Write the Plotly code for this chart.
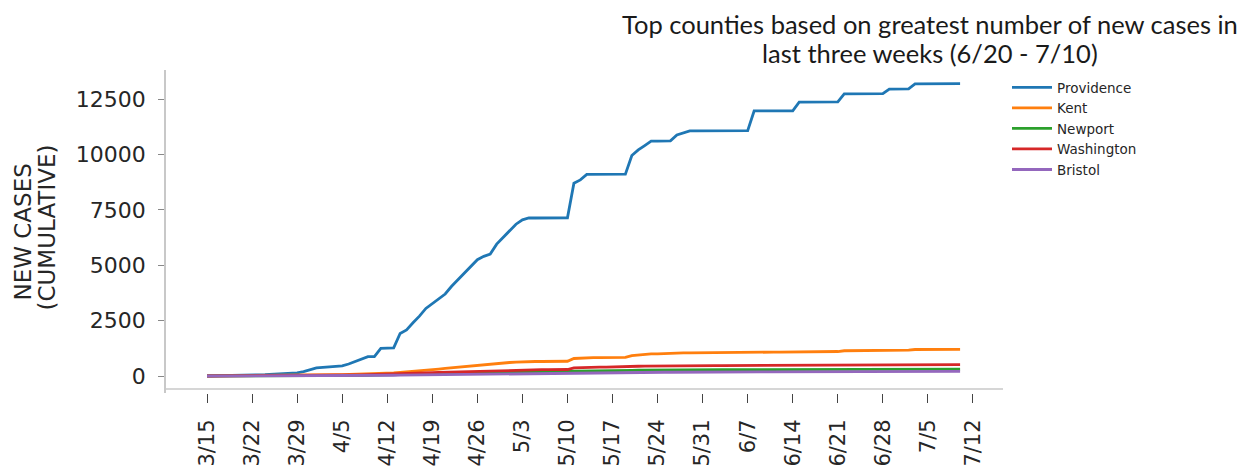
import pandas as pd
import plotly.graph_objects as go

# ---------------- data ----------------
start_date = "2020-03-15"
end_date = "2020-07-10"

tick_dates = ["2020-03-15", "2020-03-22", "2020-03-29", "2020-04-05", "2020-04-12",
              "2020-04-19", "2020-04-26", "2020-05-03", "2020-05-10", "2020-05-17",
              "2020-05-24", "2020-05-31", "2020-06-07", "2020-06-14", "2020-06-21",
              "2020-06-28", "2020-07-05", "2020-07-12"]
tick_labels = ["3/15", "3/22", "3/29", "4/5", "4/12", "4/19", "4/26", "5/3", "5/10",
               "5/17", "5/24", "5/31", "6/7", "6/14", "6/21", "6/28", "7/5", "7/12"]

y_tickvals = [0, 2500, 5000, 7500, 10000, 12500]
y_ticklabels = ["0", "2500", "5000", "7500", "10000", "12500"]

providence = [
    10, 12, 15, 20, 25, 30, 38, 45, 55, 62,
    75, 88, 100, 118, 140, 200, 300, 365, 385, 400,
    420, 460, 540, 640, 760, 870, 880, 1250, 1260, 1270,
    1920, 2080, 2400, 2700, 3050, 3280, 3480, 3700, 4050, 4350,
    4650, 4950, 5250, 5400, 5500, 5950, 6250, 6550, 6850, 7050,
    7130, 7130, 7135, 7135, 7140, 7140, 7140, 8700, 8850, 9100,
    9100, 9105, 9105, 9110, 9110, 9110, 9950, 10200, 10400, 10600,
    10600, 10605, 10610, 10880, 10980, 11060, 11060, 11065, 11065, 11070,
    11070, 11070, 11075, 11075, 11075, 11960, 11960, 11965, 11965, 11970,
    11970, 11970, 12360, 12360, 12365, 12365, 12370, 12370, 12370, 12730,
    12730, 12735, 12735, 12740, 12740, 12740, 12950, 12950, 12955, 12955,
    13180, 13180, 13185, 13185, 13190, 13190, 13190, 13190,
]
kent = [
    3, 4, 5, 6, 8, 10, 12, 14, 16, 18,
    20, 23, 26, 30, 34, 38, 42, 46, 50, 55,
    60, 66, 72, 80, 88, 96, 105, 115, 125, 140,
    160, 180, 200, 230, 255, 280, 310, 340, 370, 400,
    430, 460, 490, 515, 540, 565, 590, 610, 630, 645,
    650, 655, 655, 660, 660, 665, 665, 790, 810, 830,
    830, 832, 834, 836, 838, 840, 920, 950, 975, 1000,
    1000, 1002, 1004, 1030, 1040, 1045, 1045, 1047, 1047, 1049,
    1049, 1050, 1050, 1052, 1052, 1075, 1075, 1077, 1077, 1079,
    1079, 1080, 1100, 1100, 1102, 1102, 1104, 1104, 1105, 1140,
    1140, 1142, 1142, 1144, 1144, 1145, 1165, 1165, 1167, 1167,
    1195, 1195, 1197, 1197, 1199, 1199, 1200, 1200,
]
newport = [
    1, 1, 1, 2, 2, 2, 3, 3, 4, 4,
    5, 5, 6, 7, 8, 9, 10, 12, 14, 16,
    18, 20, 23, 26, 29, 32, 36, 40, 45, 50,
    56, 62, 68, 75, 82, 90, 98, 106, 114, 122,
    130, 138, 146, 154, 162, 170, 176, 182, 188, 194,
    196, 198, 200, 202, 204, 206, 208, 230, 236, 242,
    242, 243, 243, 244, 244, 245, 258, 262, 266, 270,
    270, 271, 271, 276, 278, 280, 280, 281, 281, 282,
    282, 282, 283, 283, 283, 288, 288, 289, 289, 290,
    290, 290, 294, 294, 295, 295, 296, 296, 296, 300,
    300, 301, 301, 302, 302, 302, 305, 305, 306, 306,
    310, 310, 311, 311, 312, 312, 312, 312,
]
washington = [
    1, 2, 2, 3, 3, 4, 5, 6, 7, 8,
    9, 10, 12, 14, 16, 18, 20, 23, 26, 30,
    34, 38, 43, 48, 54, 60, 66, 72, 80, 88,
    100, 110, 120, 130, 140, 150, 160, 170, 180, 190,
    200, 210, 220, 230, 240, 250, 258, 265, 272, 278,
    282, 284, 286, 288, 290, 292, 294, 370, 385, 400,
    400, 401, 402, 403, 404, 405, 430, 440, 445, 450,
    450, 451, 452, 460, 463, 465, 465, 466, 466, 467,
    467, 468, 468, 469, 469, 478, 478, 479, 479, 480,
    480, 481, 488, 488, 489, 489, 490, 490, 490, 498,
    498, 499, 499, 500, 500, 500, 505, 505, 506, 506,
    512, 512, 513, 513, 514, 514, 515, 515,
]
bristol = [
    0, 0, 1, 1, 1, 1, 2, 2, 2, 3,
    3, 4, 4, 5, 6, 7, 8, 9, 10, 11,
    12, 14, 16, 18, 20, 22, 24, 27, 30, 33,
    36, 40, 44, 48, 52, 56, 60, 64, 68, 72,
    76, 80, 84, 88, 92, 96, 100, 104, 108, 112,
    114, 116, 118, 120, 122, 124, 126, 145, 148, 152,
    152, 153, 153, 154, 154, 155, 163, 165, 167, 169,
    169, 170, 170, 173, 174, 175, 175, 176, 176, 176,
    177, 177, 177, 178, 178, 182, 182, 183, 183, 183,
    184, 184, 188, 188, 189, 189, 189, 190, 190, 193,
    193, 194, 194, 194, 195, 195, 198, 198, 198, 199,
    203, 203, 204, 204, 204, 205, 205, 205,
]

series_names = ["Providence", "Kent", "Newport", "Washington", "Bristol"]
series_values = [providence, kent, newport, washington, bristol]
series_colors = ["#1f77b4", "#ff7f0e", "#2ca02c", "#d62728", "#9467bd"]

title_lines = ["Top counties based on greatest number of new cases in",
               "last three weeks (6/20 - 7/10)"]
ytitle_lines = ["NEW CASES", "(CUMULATIVE)"]

# ---------------- figure ----------------
dates = pd.date_range(start_date, end_date, freq="D")

fig = go.Figure()
for name, vals, col in zip(series_names, series_values, series_colors):
    fig.add_trace(go.Scatter(x=dates, y=vals, name=name, mode="lines",
                             line=dict(color=col, width=2.8)))

# the page body adds an 8px offset; the figure is sized to fill the window
OFF = 8
W, H = 1252 - OFF, 467 - OFF
PLOT_L, PLOT_R, PLOT_T, PLOT_B = 166, 1003, 70, 393   # target window pixels
L, T = PLOT_L - OFF, PLOT_T - OFF
PW, PH = PLOT_R - PLOT_L, PLOT_B - PLOT_T
R, B = W - L - PW, H - T - PH


def px_x(p):
    return (p - PLOT_L) / PW


def px_y(p):
    return (PLOT_B - p) / PH


annotations = []
for line, ypix in zip(title_lines, [24.5, 53]):
    annotations.append(dict(text=line, xref="paper", yref="paper",
                            x=px_x(930), y=px_y(ypix), xanchor="center", yanchor="middle",
                            showarrow=False,
                            font=dict(family="Lato", size=25.5, color="#1a1a1a")))
for line, xpix, ypix in zip(ytitle_lines, [22.5, 46.5], [232, 228]):
    annotations.append(dict(text=line, xref="paper", yref="paper",
                            x=px_x(xpix), y=px_y(ypix), xanchor="center", yanchor="middle",
                            showarrow=False, textangle=-90,
                            font=dict(family="DejaVu Sans", size=23, color="#262626")))

fig.update_layout(
    width=W, height=H,
    margin=dict(l=L, r=R, t=T, b=B, autoexpand=False),
    paper_bgcolor="white", plot_bgcolor="white",
    font=dict(family="DejaVu Sans", color="#262626"),
    showlegend=True,
    legend=dict(x=px_x(1007), y=px_y(72), xanchor="left", yanchor="top",
                font=dict(family="DejaVu Sans", size=13.5, color="#262626"),
                bgcolor="rgba(0,0,0,0)", borderwidth=0, tracegroupgap=0,
                itemwidth=40),
    xaxis=dict(
        range=["2020-03-08 15:00", "2020-07-16 16:00"],
        tickmode="array", tickvals=tick_dates, ticktext=tick_labels,
        tickangle=-90, ticks="outside", ticklen=9, tickwidth=1.2, tickcolor="#444",
        ticklabelstandoff=8, automargin=False,
        tickfont=dict(family="DejaVu Sans", size=21, color="#262626"),
        showline=False, showgrid=False, zeroline=False,
    ),
    yaxis=dict(
        range=[-767, 13809],
        tickmode="array", tickvals=y_tickvals, ticktext=y_ticklabels,
        ticks="outside", ticklen=6, tickwidth=1.2, tickcolor="#888",
        ticklabelstandoff=8, automargin=False,
        tickfont=dict(family="DejaVu Sans", size=22, color="#262626"),
        showline=True, linecolor="#c8c8c8", linewidth=1.5,
        showgrid=False, zeroline=False,
    ),
    annotations=annotations,
    shapes=[
        dict(type="line", xref="paper", yref="paper",
             x0=0, x1=1, y0=px_y(389), y1=px_y(389),
             line=dict(color="#c8c8c8", width=1.5)),
    ],
)

fig.write_html("out.html")
